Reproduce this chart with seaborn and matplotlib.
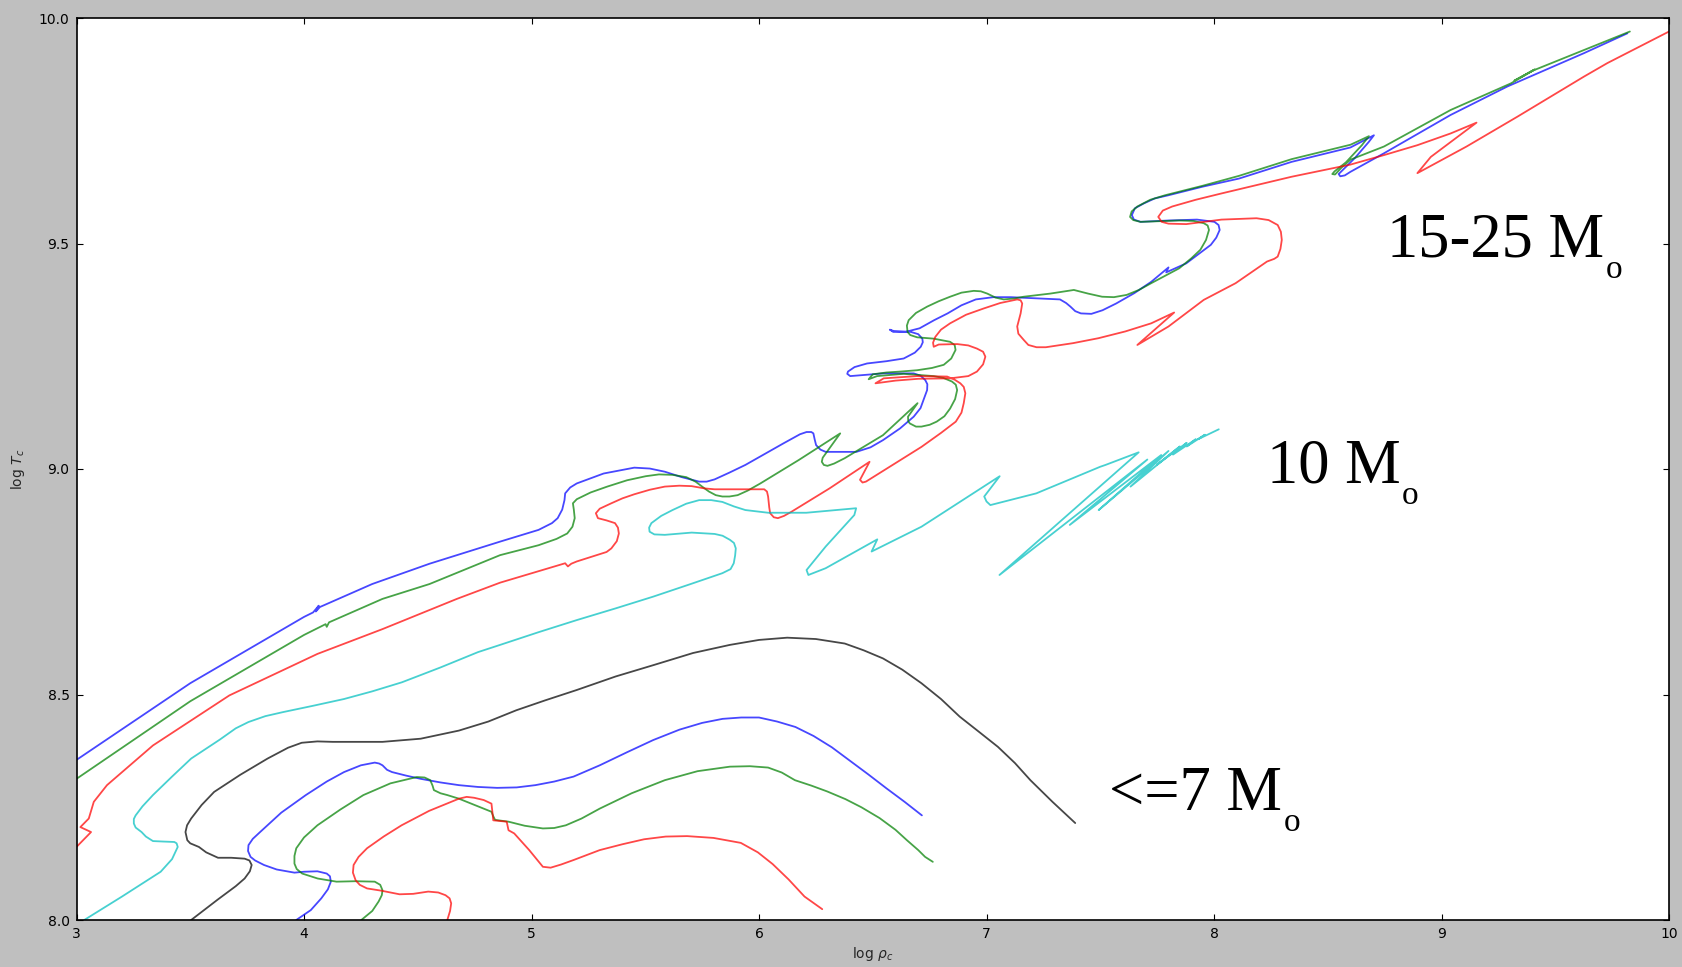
import matplotlib
matplotlib.use("Agg")
import matplotlib.pyplot as plt
import seaborn as sns

# ---- central density / temperature tracks (log rho_c, log T_c) ----
# massive stars, 15-25 Msun
hi_blue_rho = [3.000, 3.500, 4.000, 4.040, 4.065, 4.052, 4.070, 4.300, 4.552, 4.862, 5.031, 5.090, 5.115, 5.135, 5.145,
               5.148, 5.170, 5.199, 5.317, 5.452, 5.520, 5.586, 5.660, 5.737, 5.770, 5.805, 5.870, 5.940, 6.108, 6.180,
               6.209, 6.230, 6.239, 6.245, 6.251, 6.270, 6.293, 6.428, 6.490, 6.545, 6.620, 6.680, 6.710, 6.723, 6.739,
               6.740, 6.731, 6.710, 6.680, 6.548, 6.401, 6.388, 6.391, 6.420, 6.475, 6.560, 6.636, 6.685, 6.711, 6.720,
               6.718, 6.700, 6.667, 6.592, 6.575, 6.590, 6.644, 6.706, 6.770, 6.829, 6.890, 6.953, 7.030, 7.107, 7.323,
               7.350, 7.369, 7.390, 7.415, 7.461, 7.510, 7.570, 7.650, 7.724, 7.800, 7.790, 7.878, 7.986, 8.010, 8.025,
               8.020, 8.002, 7.925, 7.800, 7.677, 7.648, 7.639, 7.652, 7.692, 7.740, 7.800, 7.950, 8.110, 8.341, 8.600,
               8.703, 8.680, 8.620, 8.570, 8.548, 8.555, 8.575, 8.600, 8.747, 9.040, 9.289, 9.626, 9.817]
hi_blue_T = [8.355, 8.525, 8.672, 8.682, 8.697, 8.684, 8.694, 8.745, 8.790, 8.839, 8.865, 8.880, 8.891, 8.910, 8.931,
             8.946, 8.959, 8.968, 8.990, 9.003, 9.001, 8.994, 8.982, 8.972, 8.972, 8.977, 8.992, 9.009, 9.057, 9.077,
             9.082, 9.082, 9.079, 9.065, 9.053, 9.043, 9.038, 9.038, 9.048, 9.064, 9.090, 9.116, 9.135, 9.153, 9.175,
             9.188, 9.197, 9.207, 9.212, 9.212, 9.206, 9.211, 9.216, 9.226, 9.234, 9.239, 9.245, 9.258, 9.271, 9.281,
             9.289, 9.299, 9.304, 9.306, 9.309, 9.304, 9.304, 9.312, 9.330, 9.345, 9.363, 9.376, 9.381, 9.381, 9.376,
             9.368, 9.360, 9.350, 9.345, 9.344, 9.352, 9.367, 9.390, 9.415, 9.447, 9.436, 9.456, 9.497, 9.513, 9.530,
             9.541, 9.548, 9.553, 9.551, 9.548, 9.553, 9.563, 9.578, 9.589, 9.600, 9.607, 9.626, 9.644, 9.681, 9.713,
             9.740, 9.725, 9.690, 9.665, 9.654, 9.649, 9.651, 9.659, 9.700, 9.785, 9.848, 9.922, 9.966]

hi_green_rho = [3.000, 3.500, 4.000, 4.095, 4.100, 4.110, 4.345, 4.552, 4.862, 5.031, 5.110, 5.157, 5.180, 5.190, 5.186,
                5.182, 5.199, 5.260, 5.333, 5.420, 5.502, 5.560, 5.620, 5.680, 5.721, 5.750, 5.780, 5.810, 5.839, 5.870,
                5.906, 5.950, 6.006, 6.175, 6.357, 6.310, 6.280, 6.276, 6.285, 6.301, 6.330, 6.377, 6.545, 6.697, 6.655,
                6.656, 6.663, 6.690, 6.714, 6.750, 6.781, 6.815, 6.840, 6.862, 6.871, 6.865, 6.848, 6.810, 6.768, 6.636,
                6.519, 6.482, 6.500, 6.560, 6.620, 6.695, 6.760, 6.812, 6.845, 6.864, 6.860, 6.840, 6.768, 6.695, 6.665,
                6.653, 6.650, 6.658, 6.690, 6.739, 6.790, 6.840, 6.890, 6.944, 6.975, 7.003, 7.040, 7.076, 7.120, 7.164,
                7.281, 7.384, 7.446, 7.508, 7.560, 7.616, 7.670, 7.724, 7.847, 7.900, 7.940, 7.965, 7.978, 7.972, 7.955,
                7.910, 7.847, 7.677, 7.645, 7.631, 7.638, 7.663, 7.720, 7.785, 7.950, 8.110, 8.341, 8.600, 8.681, 8.650,
                8.580, 8.530, 8.520, 8.532, 8.560, 8.600, 8.747, 9.040, 9.305, 9.410, 9.320, 9.400, 9.626, 9.828]
hi_green_T = [8.313, 8.485, 8.632, 8.656, 8.650, 8.660, 8.712, 8.745, 8.809, 8.831, 8.845, 8.857, 8.872, 8.891, 8.910,
              8.924, 8.933, 8.948, 8.961, 8.975, 8.984, 8.988, 8.987, 8.982, 8.972, 8.961, 8.950, 8.942, 8.939, 8.939,
              8.942, 8.952, 8.968, 9.020, 9.079, 9.046, 9.025, 9.016, 9.009, 9.007, 9.012, 9.024, 9.075, 9.146, 9.116,
              9.106, 9.101, 9.094, 9.094, 9.098, 9.105, 9.117, 9.134, 9.155, 9.175, 9.187, 9.194, 9.202, 9.206, 9.211,
              9.206, 9.199, 9.210, 9.214, 9.216, 9.219, 9.224, 9.231, 9.245, 9.264, 9.275, 9.282, 9.289, 9.292, 9.297,
              9.304, 9.318, 9.330, 9.346, 9.360, 9.372, 9.382, 9.391, 9.395, 9.394, 9.389, 9.380, 9.376, 9.378, 9.382,
              9.389, 9.397, 9.389, 9.382, 9.381, 9.386, 9.397, 9.412, 9.445, 9.467, 9.486, 9.508, 9.530, 9.540, 9.545,
              9.550, 9.551, 9.548, 9.552, 9.559, 9.571, 9.582, 9.597, 9.607, 9.628, 9.650, 9.687, 9.719, 9.738, 9.718,
              9.680, 9.660, 9.654, 9.653, 9.668, 9.686, 9.715, 9.796, 9.855, 9.886, 9.861, 9.883, 9.929, 9.970]

hi_red_rho = [3.000, 3.064, 3.017, 3.054, 3.076, 3.134, 3.336, 3.672, 4.059, 4.345, 4.672, 4.862, 5.148, 5.160, 5.175,
              5.199, 5.280, 5.330, 5.351, 5.375, 5.384, 5.380, 5.367, 5.330, 5.292, 5.283, 5.300, 5.351, 5.400, 5.452,
              5.520, 5.586, 5.650, 5.704, 5.760, 5.805, 6.023, 6.035, 6.040, 6.045, 6.049, 6.065, 6.083, 6.110, 6.142,
              6.310, 6.486, 6.444, 6.455, 6.470, 6.714, 6.800, 6.865, 6.890, 6.900, 6.907, 6.900, 6.885, 6.860, 6.827,
              6.695, 6.548, 6.512, 6.600, 6.700, 6.840, 6.920, 6.958, 6.985, 6.995, 6.985, 6.958, 6.920, 6.871, 6.790,
              6.768, 6.765, 6.775, 6.800, 6.840, 6.910, 6.988, 7.060, 7.135, 7.150, 7.157, 7.150, 7.135, 7.140, 7.164,
              7.184, 7.220, 7.261, 7.380, 7.492, 7.610, 7.724, 7.825, 7.663, 7.800, 7.955, 8.095, 8.233, 8.265, 8.280,
              8.292, 8.298, 8.294, 8.280, 8.240, 8.187, 8.033, 7.878, 7.800, 7.770, 7.755, 7.775, 7.816, 7.920, 8.033,
              8.341, 8.541, 8.600, 8.747, 8.894, 9.040, 9.154, 8.953, 8.894, 9.110, 9.333, 9.626, 9.729, 10.000]
hi_red_T = [8.162, 8.195, 8.206, 8.225, 8.262, 8.299, 8.387, 8.498, 8.590, 8.645, 8.712, 8.748, 8.791, 8.784, 8.790,
            8.795, 8.808, 8.816, 8.824, 8.840, 8.857, 8.870, 8.880, 8.886, 8.891, 8.902, 8.912, 8.924, 8.935, 8.944,
            8.954, 8.961, 8.963, 8.962, 8.957, 8.955, 8.955, 8.950, 8.939, 8.915, 8.902, 8.893, 8.891, 8.896, 8.905,
            8.957, 9.016, 8.976, 8.970, 8.972, 9.049, 9.080, 9.105, 9.125, 9.146, 9.168, 9.182, 9.190, 9.198, 9.205,
            9.206, 9.201, 9.190, 9.196, 9.200, 9.201, 9.206, 9.216, 9.232, 9.249, 9.260, 9.267, 9.274, 9.277, 9.276,
            9.271, 9.280, 9.293, 9.309, 9.323, 9.342, 9.356, 9.368, 9.376, 9.374, 9.367, 9.345, 9.316, 9.300, 9.286,
            9.275, 9.270, 9.270, 9.279, 9.290, 9.305, 9.323, 9.347, 9.275, 9.316, 9.375, 9.412, 9.460, 9.466, 9.471,
            9.488, 9.508, 9.526, 9.541, 9.552, 9.556, 9.553, 9.543, 9.544, 9.548, 9.559, 9.573, 9.582, 9.597, 9.611,
            9.648, 9.669, 9.675, 9.696, 9.718, 9.744, 9.768, 9.692, 9.656, 9.715, 9.781, 9.870, 9.900, 9.970]

# 10 Msun
mid_cyan_rho = [3.034, 3.200, 3.370, 3.420, 3.445, 3.440, 3.430, 3.380, 3.336, 3.305, 3.286, 3.260, 3.252, 3.252, 3.260,
                3.290, 3.336, 3.420, 3.504, 3.630, 3.700, 3.756, 3.830, 3.908, 4.040, 4.176, 4.300, 4.430, 4.600, 4.765,
                4.862, 5.030, 5.199, 5.370, 5.535, 5.700, 5.839, 5.875, 5.889, 5.895, 5.898, 5.890, 5.872, 5.840, 5.805,
                5.704, 5.586, 5.540, 5.519, 5.517, 5.527, 5.570, 5.620, 5.680, 5.737, 5.790, 5.839, 5.890, 5.940, 6.040,
                6.208, 6.427, 6.419, 6.293, 6.209, 6.217, 6.293, 6.520, 6.495, 6.714, 7.058, 6.990, 7.000, 7.017, 7.219,
                7.500, 7.523, 7.669, 7.057, 7.707, 7.366, 7.768, 7.493, 7.800, 7.633, 7.850, 7.750, 7.880, 7.820, 7.920,
                7.880, 7.960, 7.930, 8.021]
mid_cyan_T = [8.000, 8.052, 8.107, 8.135, 8.162, 8.170, 8.173, 8.174, 8.175, 8.185, 8.195, 8.205, 8.214, 8.224, 8.232,
              8.252, 8.277, 8.318, 8.358, 8.400, 8.425, 8.439, 8.452, 8.461, 8.475, 8.490, 8.507, 8.527, 8.560, 8.594,
              8.610, 8.638, 8.665, 8.691, 8.717, 8.745, 8.769, 8.778, 8.791, 8.808, 8.824, 8.836, 8.843, 8.852, 8.856,
              8.859, 8.854, 8.855, 8.861, 8.870, 8.880, 8.896, 8.909, 8.923, 8.931, 8.931, 8.927, 8.917, 8.909, 8.903,
              8.903, 8.913, 8.898, 8.828, 8.776, 8.765, 8.780, 8.844, 8.817, 8.872, 8.984, 8.939, 8.928, 8.920, 8.946,
              9.005, 9.009, 9.037, 8.765, 9.021, 8.876, 9.031, 8.909, 9.040, 8.961, 9.050, 9.010, 9.058, 9.032, 9.066,
              9.050, 9.076, 9.066, 9.088]

# intermediate masses, <= 7 Msun
lo_black_rho = [3.504, 3.620, 3.700, 3.739, 3.762, 3.770, 3.760, 3.739, 3.680, 3.622, 3.570, 3.538, 3.500, 3.487, 3.479,
                3.486, 3.504, 3.550, 3.605, 3.720, 3.840, 3.930, 3.990, 4.059, 4.126, 4.345, 4.513, 4.681, 4.810, 4.933,
                5.060, 5.199, 5.370, 5.535, 5.710, 5.872, 6.000, 6.124, 6.250, 6.377, 6.460, 6.545, 6.630, 6.714, 6.800,
                6.882, 6.965, 7.050, 7.125, 7.193, 7.290, 7.390]
lo_black_T = [8.000, 8.045, 8.075, 8.092, 8.108, 8.122, 8.132, 8.136, 8.138, 8.138, 8.150, 8.162, 8.170, 8.177, 8.195,
              8.210, 8.225, 8.255, 8.284, 8.322, 8.358, 8.382, 8.393, 8.396, 8.395, 8.395, 8.402, 8.420, 8.440, 8.465,
              8.487, 8.510, 8.540, 8.565, 8.592, 8.610, 8.621, 8.626, 8.623, 8.613, 8.598, 8.580, 8.555, 8.525, 8.490,
              8.451, 8.418, 8.384, 8.348, 8.310, 8.262, 8.215]

lo_blue_rho = [3.966, 4.030, 4.076, 4.105, 4.118, 4.114, 4.100, 4.059, 4.000, 3.958, 3.880, 3.824, 3.785, 3.765, 3.754,
               3.756, 3.775, 3.807, 3.900, 4.008, 4.100, 4.176, 4.250, 4.311, 4.330, 4.345, 4.365, 4.387, 4.450, 4.513,
               4.600, 4.681, 4.765, 4.849, 4.935, 5.017, 5.100, 5.185, 5.300, 5.420, 5.535, 5.650, 5.750, 5.840, 5.922,
               6.000, 6.080, 6.160, 6.240, 6.320, 6.400, 6.480, 6.560, 6.640, 6.716]
lo_blue_T = [8.000, 8.022, 8.048, 8.068, 8.085, 8.097, 8.103, 8.108, 8.107, 8.105, 8.112, 8.122, 8.132, 8.140, 8.153,
             8.166, 8.180, 8.195, 8.238, 8.277, 8.307, 8.328, 8.343, 8.349, 8.347, 8.343, 8.333, 8.328, 8.320, 8.313,
             8.305, 8.299, 8.295, 8.293, 8.294, 8.299, 8.307, 8.318, 8.343, 8.372, 8.399, 8.422, 8.437, 8.446, 8.449,
             8.449, 8.440, 8.428, 8.408, 8.383, 8.353, 8.323, 8.292, 8.262, 8.232]

lo_green_rho = [4.252, 4.300, 4.328, 4.342, 4.345, 4.335, 4.311, 4.227, 4.143, 4.060, 3.992, 3.968, 3.958, 3.958, 3.966,
                4.000, 4.059, 4.160, 4.261, 4.380, 4.496, 4.530, 4.555, 4.565, 4.571, 4.600, 4.630, 4.681, 4.750, 4.824,
                4.832, 4.840, 4.899, 4.970, 5.050, 5.100, 5.151, 5.220, 5.300, 5.440, 5.586, 5.730, 5.872, 5.960, 6.040,
                6.100, 6.158, 6.230, 6.300, 6.380, 6.450, 6.530, 6.600, 6.650, 6.700, 6.730, 6.764]
lo_green_T = [8.000, 8.020, 8.041, 8.055, 8.066, 8.078, 8.085, 8.086, 8.085, 8.092, 8.103, 8.113, 8.125, 8.142, 8.159,
              8.183, 8.210, 8.245, 8.277, 8.303, 8.317, 8.316, 8.310, 8.298, 8.288, 8.281, 8.277, 8.269, 8.255, 8.240,
              8.230, 8.222, 8.218, 8.209, 8.203, 8.204, 8.210, 8.225, 8.247, 8.281, 8.310, 8.330, 8.340, 8.341, 8.338,
              8.327, 8.310, 8.298, 8.285, 8.268, 8.250, 8.226, 8.200, 8.177, 8.155, 8.140, 8.129]

lo_red_rho = [4.630, 4.642, 4.647, 4.640, 4.622, 4.590, 4.546, 4.480, 4.420, 4.340, 4.277, 4.245, 4.227, 4.215, 4.218,
              4.240, 4.277, 4.350, 4.429, 4.550, 4.681, 4.715, 4.748, 4.790, 4.824, 4.828, 4.832, 4.891, 4.899, 4.924,
              4.990, 5.050, 5.084, 5.130, 5.185, 5.300, 5.400, 5.495, 5.590, 5.684, 5.800, 5.920, 5.995, 6.060, 6.130,
              6.200, 6.278]
lo_red_T = [8.000, 8.020, 8.037, 8.048, 8.055, 8.061, 8.063, 8.058, 8.057, 8.065, 8.070, 8.078, 8.088, 8.105, 8.122,
            8.140, 8.159, 8.185, 8.210, 8.242, 8.269, 8.273, 8.271, 8.266, 8.258, 8.240, 8.221, 8.218, 8.199, 8.192,
            8.155, 8.118, 8.116, 8.123, 8.133, 8.155, 8.168, 8.179, 8.185, 8.186, 8.182, 8.171, 8.150, 8.124, 8.090,
            8.052, 8.024]

# mass-range annotations: (text, log rho_c, log T_c)
mass_labels = ["15-25 M", "10 M", "<=7 M"]
mass_label_rho = [8.762, 8.234, 7.540]
mass_label_T = [9.471, 8.970, 8.245]

x_ticks = [3, 4, 5, 6, 7, 8, 9, 10]
y_ticks = [8.0, 8.5, 9.0, 9.5, 10.0]

# ---- figure ----
sns.set_style("ticks")
plt.rcParams['font.family'] = ['DejaVu Sans']
plt.rcParams['mathtext.fontset'] = 'dejavusans'

W, H = 1682, 967
fig = plt.figure(figsize=(W / 100, H / 100), dpi=100, facecolor='#bfbfbf')
ax = fig.add_axes([76.5 / W, 1 - 920 / H, (1669 - 76.5) / W, (920 - 18) / H])
ax.set_facecolor('white')

tracks = [
    (hi_blue_rho, hi_blue_T, 'b'),
    (hi_green_rho, hi_green_T, 'g'),
    (hi_red_rho, hi_red_T, 'r'),
    (mid_cyan_rho, mid_cyan_T, 'c'),
    (lo_black_rho, lo_black_T, 'k'),
    (lo_blue_rho, lo_blue_T, 'b'),
    (lo_green_rho, lo_green_T, 'g'),
    (lo_red_rho, lo_red_T, 'r'),
]
for rho, temp, col in tracks:
    sns.lineplot(x=rho, y=temp, sort=False, estimator=None, color=col,
                 alpha=0.72, lw=1.3, ax=ax)

ax.set_xlim(3, 10)
ax.set_ylim(8, 10)
ax.set_xticks(x_ticks)
ax.set_xticklabels([str(t) for t in x_ticks])
ax.set_yticks(y_ticks)
ax.set_yticklabels([f"{t:.1f}" for t in y_ticks])
ax.tick_params(direction='in', length=4.5, width=0.8, top=True, right=True,
               labelsize=10, colors='black', pad=5)
for sp in ax.spines.values():
    sp.set_visible(True)
    sp.set_linewidth(1.2)
    sp.set_color('black')

ax.set_xlabel(r'log $\rho_c$', fontsize=10)
ax.set_ylabel(r'log $T_c$', fontsize=10)
ax.xaxis.set_label_coords(0.5, -0.028)
ax.yaxis.set_label_coords(-0.031, 0.5)

serif = ['Liberation Serif', 'DejaVu Serif']
label_artists = []
for txt, r, t in zip(mass_labels, mass_label_rho, mass_label_T):
    a = ax.text(r, t, txt, fontsize=45, family=serif, ha='left', va='baseline', color='black')
    label_artists.append(a)

# solar-mass subscript placed right after each "M"
fig.canvas.draw()
renderer = fig.canvas.get_renderer()
for a, r, t in zip(label_artists, mass_label_rho, mass_label_T):
    bb = a.get_window_extent(renderer)
    base_y = ax.transData.transform((r, t))[1]
    fig.text((bb.x1 + 1) / W, (base_y - 21.5) / H, 'o', fontsize=24, family=serif,
             ha='left', va='baseline', color='black')

fig.savefig('out.png', dpi=100, facecolor=fig.get_facecolor())
